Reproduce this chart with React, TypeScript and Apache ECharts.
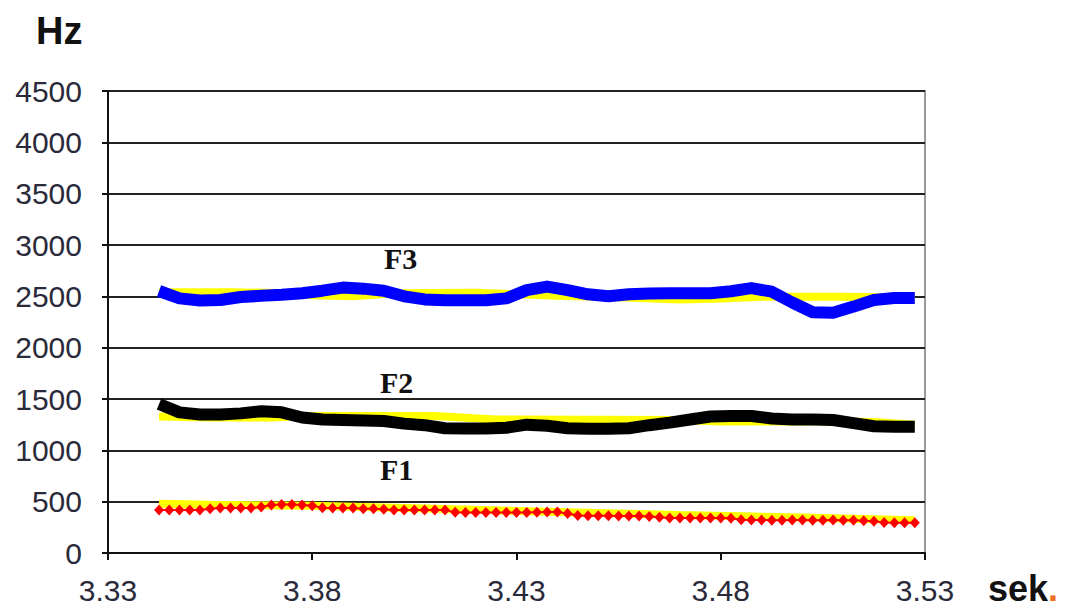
import React, { useEffect, useRef } from "react";
import * as echarts from "echarts";

// F1 track (dense samples, red diamonds)
const tF1 = [
  3.3425, 3.345, 3.3475, 3.35, 3.3525, 3.355, 3.3575, 3.36, 3.3625, 3.365,
  3.3675, 3.37, 3.3725, 3.375, 3.3775, 3.38, 3.3825, 3.385, 3.3875, 3.39,
  3.3925, 3.395, 3.3975, 3.4, 3.4025, 3.405, 3.4075, 3.41, 3.4125, 3.415,
  3.4175, 3.42, 3.4225, 3.425, 3.4275, 3.43, 3.4325, 3.435, 3.4375, 3.44,
  3.4425, 3.445, 3.4475, 3.45, 3.4525, 3.455, 3.4575, 3.46, 3.4625, 3.465,
  3.4675, 3.47, 3.4725, 3.475, 3.4775, 3.48, 3.4825, 3.485, 3.4875, 3.49,
  3.4925, 3.495, 3.4975, 3.5, 3.5025, 3.505, 3.5075, 3.51, 3.5125, 3.515,
  3.5175, 3.52, 3.5225, 3.525, 3.5275,
];
const f1 = [
  420, 420, 420, 420, 420, 430, 438, 438, 438, 438,
  448, 468, 472, 472, 468, 460, 440, 438, 438, 438,
  432, 430, 425, 420, 420, 420, 420, 420, 418, 398,
  395, 395, 395, 395, 395, 395, 395, 398, 400, 400,
  385, 365, 362, 362, 362, 360, 360, 360, 355, 348,
  342, 342, 341, 341, 340, 340, 338, 325, 321, 321,
  320, 320, 321, 321, 320, 320, 321, 320, 318, 315,
  310, 298, 295, 295, 295,
];

// F2 / F3 tracks
const tF23 = [
  3.3425, 3.3475, 3.3525, 3.3575, 3.3625, 3.3675, 3.3725, 3.3775, 3.3825, 3.3875,
  3.3925, 3.3975, 3.4025, 3.4075, 3.4125, 3.4175, 3.4225, 3.4275, 3.4325, 3.4375,
  3.4425, 3.4475, 3.4525, 3.4575, 3.4625, 3.4675, 3.4725, 3.4775, 3.4825, 3.4875,
  3.4925, 3.4975, 3.5025, 3.5075, 3.5125, 3.5175, 3.5225, 3.5275,
];
const f2 = [
  1451, 1370, 1349, 1350, 1360, 1380, 1370, 1320, 1300, 1295,
  1290, 1286, 1260, 1245, 1215, 1212, 1213, 1220, 1250, 1240,
  1215, 1210, 1210, 1215, 1245, 1270, 1300, 1330, 1334, 1334,
  1310, 1300, 1300, 1295, 1265, 1235, 1230, 1230,
];
const f3 = [
  2552, 2480, 2460, 2464, 2493, 2505, 2515, 2530, 2555, 2585,
  2575, 2555, 2500, 2470, 2462, 2462, 2462, 2480, 2560, 2595,
  2560, 2520, 2500, 2520, 2528, 2530, 2530, 2530, 2550, 2580,
  2545, 2440, 2345, 2340, 2400, 2465, 2484, 2484,
];

// Stylised (yellow) tracks
const tY1 = [3.3425, 3.355, 3.38, 3.41, 3.44, 3.47, 3.5, 3.5275];
const y1 = [480, 470, 460, 430, 400, 370, 345, 320];
const tY2 = [3.3425, 3.355, 3.37, 3.38, 3.41, 3.425, 3.47, 3.48, 3.51, 3.5175, 3.5275];
const y2 = [1330, 1320, 1320, 1335, 1335, 1300, 1295, 1280, 1280, 1275, 1250];
const tY3 = [3.3425, 3.36, 3.375, 3.38, 3.39, 3.4, 3.42, 3.43, 3.44, 3.455, 3.47, 3.48, 3.49, 3.51, 3.52, 3.5275];
const y3 = [2540, 2540, 2530, 2510, 2500, 2530, 2535, 2520, 2505, 2490, 2470, 2480, 2495, 2495, 2490, 2485];

const xTicks = [3.33, 3.38, 3.43, 3.48, 3.53];

const zip = (t: number[], v: number[]) => t.map((x, i) => [x, v[i]]);

export default function App() {
  const ref = useRef<HTMLDivElement>(null);
  useEffect(() => {
    if (!ref.current) return;
    const chart = echarts.init(ref.current, undefined, { renderer: "svg" });
    const yellow = (data: number[][]) => ({
      type: "line",
      data,
      showSymbol: false,
      lineStyle: { color: "#ffff00", width: 8 },
      z: 1,
    });
    chart.setOption({
      animation: false,
      grid: {
        left: 108,
        top: 91,
        right: 147,
        bottom: 57,
        show: true,
        borderColor: "#999",
        borderWidth: 2,
      },
      xAxis: {
        type: "value",
        min: 3.33,
        max: 3.53,
        splitLine: { show: false },
        axisLine: { lineStyle: { color: "#111", width: 2 } },
        axisTick: { show: true, length: 7, customValues: xTicks, lineStyle: { color: "#111", width: 2 } },
        axisLabel: {
          customValues: xTicks,
          formatter: (v: number) => v.toFixed(2),
          fontSize: 30,
          fontFamily: "Liberation Sans, Arial, sans-serif",
          color: "#2a2a3a",
          margin: 22,
        },
      },
      yAxis: {
        type: "value",
        min: 0,
        max: 4500,
        interval: 500,
        splitLine: { lineStyle: { color: "#222", width: 2 } },
        axisLine: { show: true, lineStyle: { color: "#111", width: 2 } },
        axisTick: { show: true, length: 6, lineStyle: { color: "#111", width: 2 } },
        axisLabel: {
          formatter: (v: number) => String(v),
          fontSize: 30,
          fontFamily: "Liberation Sans, Arial, sans-serif",
          color: "#2a2a3a",
          margin: 26,
        },
      },
      series: [
        yellow(zip(tY3, y3)),
        yellow(zip(tY2, y2)),
        yellow(zip(tY1, y1)),
        {
          type: "line",
          data: zip(tF23, f3),
          showSymbol: false,
          lineStyle: { color: "#0000ff", width: 12, join: "round" },
          z: 2,
        },
        {
          type: "line",
          data: zip(tF23, f2),
          showSymbol: false,
          lineStyle: { color: "#000000", width: 12, join: "round" },
          z: 2,
        },
        {
          type: "line",
          data: zip(tF1, f1),
          symbol: "diamond",
          symbolSize: [10, 11],
          showSymbol: true,
          itemStyle: { color: "#ff0000" },
          lineStyle: { color: "#ff0000", width: 2 },
          z: 3,
        },
      ],
      graphic: [
        {
          type: "text",
          left: 36,
          top: 12,
          style: { text: "Hz", font: "bold 38px Liberation Sans, Arial, sans-serif", fill: "#111" },
        },
        {
          type: "text",
          left: 988,
          top: 570,
          style: {
            text: "{a|sek}{b|.}",
            rich: {
              a: { font: "bold 36px Liberation Sans, Arial, sans-serif", fill: "#111" },
              b: { font: "bold 36px Liberation Sans, Arial, sans-serif", fill: "#f07020" },
            },
          },
        },
        {
          type: "text",
          left: 384,
          top: 243,
          style: { text: "F3", font: "bold 30px Liberation Serif, Times New Roman, serif", fill: "#111" },
        },
        {
          type: "text",
          left: 380,
          top: 367,
          style: { text: "F2", font: "bold 30px Liberation Serif, Times New Roman, serif", fill: "#111" },
        },
        {
          type: "text",
          left: 380,
          top: 454,
          style: { text: "F1", font: "bold 30px Liberation Serif, Times New Roman, serif", fill: "#111" },
        },
      ],
    });
    return () => chart.dispose();
  }, []);
  return (
    <div
      ref={ref}
      style={{ position: "absolute", left: 0, top: 0, width: 1072, height: 610 }}
    />
  );
}
